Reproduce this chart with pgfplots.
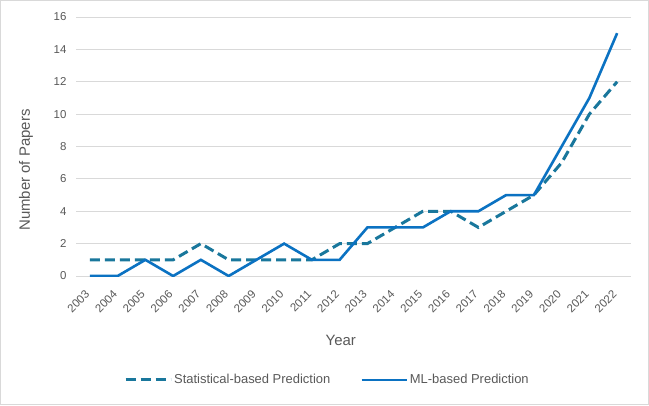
\documentclass[border=0pt]{standalone}
\usepackage{pgfplots}
\pgfplotsset{compat=1.18}
\usepackage{fontspec}
\setmainfont{Liberation Sans}
\definecolor{statcol}{HTML}{19779C}
\definecolor{mlcol}{HTML}{0B72C2}
\definecolor{gridcol}{HTML}{D9D9D9}
\definecolor{txtcol}{HTML}{595959}
\begin{document}
\begin{tikzpicture}[x=1bp,y=1bp]
\fill[white] (0,0) rectangle (649,405);
\draw[gridcol, line width=1bp] (0.5,0.5) rectangle (648.5,404.5);
\useasboundingbox (0,0) rectangle (649,405);
\begin{axis}[
    at={(76bp,129bp)}, anchor=south west,
    scale only axis,
    width=555bp, height=259bp,
    xmin=-0.5, xmax=19.5,
    ymin=0, ymax=16,
    xtick={0,...,19},
    xticklabels={2003,2004,2005,2006,2007,2008,2009,2010,2011,2012,2013,2014,2015,2016,2017,2018,2019,2020,2021,2022},
    ytick={0,2,...,16},
    ymajorgrids,
    grid style={gridcol, line width=0.8bp},
    axis line style={draw=none},
    major tick length=0pt,
    tick label style={font=\fontsize{11.5}{13}\selectfont, text=txtcol},
    /pgf/number format/assume math mode=true,
    xticklabel style={rotate=45, anchor=east, xshift=-10bp, yshift=-10bp},
    yticklabel style={xshift=-6bp},
    xlabel={Year},
    ylabel={Number of Papers},
    label style={font=\fontsize{15}{17}\selectfont, text=txtcol},
    xlabel style={at={(axis description cs:0.477,-0.247)}, anchor=center},
    ylabel style={at={(axis description cs:-0.09,0.409)}, anchor=center},
    legend columns=2,
    legend style={at={(axis description cs:0.453,-0.4015)}, anchor=center,
        draw=none, fill=none, font=\fontsize{13}{15}\selectfont, text=txtcol,
        /tikz/every even column/.append style={column sep=28bp}},
    legend image code/.code={\draw[#1] (0bp,0bp) -- (45bp,0bp);},
]
\addplot[statcol, line width=3bp, dash pattern=on 10bp off 5bp] coordinates {
    (0,1) (1,1) (2,1) (3,1) (4,2) (5,1) (6,1) (7,1) (8,1) (9,2)
    (10,2) (11,3) (12,4) (13,4) (14,3) (15,4) (16,5) (17,7) (18,10) (19,12)
};
\addlegendentry{Statistical-based Prediction}
\addplot[mlcol, line width=2.6bp] coordinates {
    (0,0) (1,0) (2,1) (3,0) (4,1) (5,0) (6,1) (7,2) (8,1) (9,1)
    (10,3) (11,3) (12,3) (13,4) (14,4) (15,5) (16,5) (17,8) (18,11) (19,15)
};
\addlegendentry{ML-based Prediction}
\end{axis}
\end{tikzpicture}
\end{document}
